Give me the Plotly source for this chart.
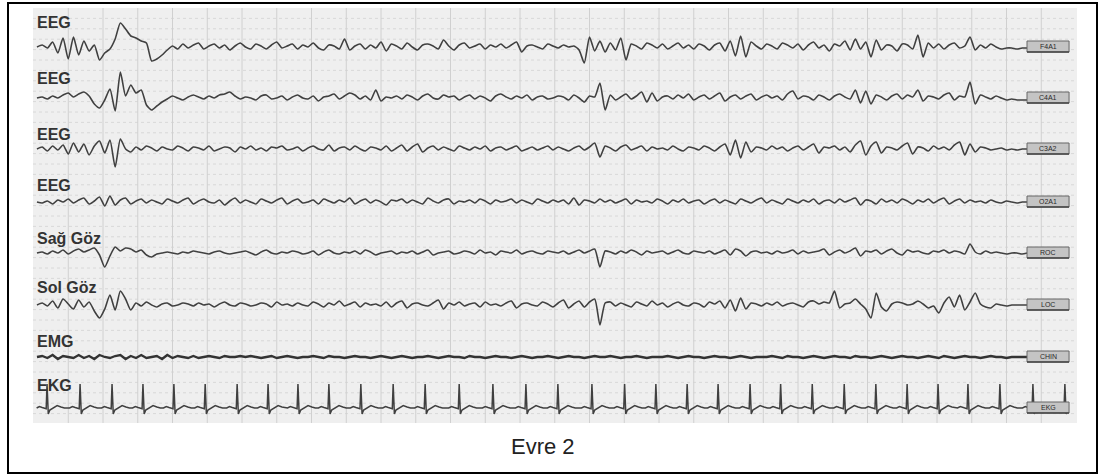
import numpy as np
import plotly.graph_objects as go

W, H = 1101, 476

# ---- channel metadata ----
channel_names = ["EEG", "EEG", "EEG", "EEG", "Sağ Göz", "Sol Göz", "EMG", "EKG"]
derivations = ["F4A1", "C4A1", "C3A2", "O2A1", "ROC", "LOC", "CHIN", "EKG"]
title_text = "Evre 2"

# sampling of the EEG / EOG / EMG traces (seconds)
t_start, t_step = 0.1, 0.15

# ---- trace amplitudes (µV-like units, positive = up) ----
eeg_f4a1 = [
    0, 2, -1, 5, -6, 9, -12, 10, -8, 6,
    -4, 2, -13, -6, -2, 8, 24, 18, 11, 9,
    6, 4, -14, -12, -8, -3, 1, -2, 3, -1,
    2, 4, -2, 1, 3, -1, 2, -3, 1, 4,
    0, -2, 3, 1, -2, 2, 5, -1, 1, 3,
    -2, 2, 0, 4, -1, -3, 2, 1, -2, 8,
    -3, 1, 3, -2, 2, -1, 5, -4, 3, 1,
    -2, 4, 0, -3, 2, 3, 1, -2, 7, 1,
    -3, 2, 4, -1, 1, 3, -2, 2, 0, 3,
    -1, 2, 5, -5, 1, 2, 0, -2, 3, 1,
    -1, 2, 0, 1, -3, -16, 10, -4, 6, -5,
    4, -3, 9, -13, 3, 1, -2, 4, 2, -1,
    3, -2, 1, 4, -1, 2, -2, 3, 1, -3,
    2, 4, -4, 6, -9, 11, -10, 5, 1, -2,
    3, 1, -2, 4, 2, -1, 3, -3, 2, 5,
    -1, 2, -4, 3, 1, 6, -3, 8, -2, 5,
    -10, 7, -3, 2, 1, -4, 3, 2, -2, 12,
    -10, 4, -1, 3, -2, 2, 4, -1, 1, 10,
    -3, 2, -1, 3, 0, -2, -1, -1, -2, -1,
    -1,
]
eeg_c4a1 = [
    0, 1, -1, 2, 0, 3, 5, 1, 4, 6,
    2, -6, -10, -2, 9, -13, 26, 2, 13, 5,
    8, -7, -12, -8, -4, -1, 2, 0, -2, 1,
    3, 1, -1, 2, 0, 3, 4, 6, 2, -1,
    1, 0, -2, 2, 3, -1, 0, 2, -2, 1,
    3, 0, -1, 2, -3, 1, 2, 4, -1, 2,
    5, 3, -1, 2, -2, 8, -3, 1, 0, 2,
    -1, 3, 1, -2, 2, 4, 0, -1, 3, 1,
    2, -2, 1, 3, -1, 2, 0, -3, 2, 4,
    1, -1, 2, 0, 3, -2, 1, 2, -1, 0,
    2, 1, -2, 3, 0, -4, 2, 1, 15, -12,
    3, -2, 1, 4, -1, 2, 6, -4, 5, -3,
    1, 2, -1, 3, 0, 4, -2, 1, 3, -1,
    2, 5, -3, 1, 3, -1, 2, 4, -2, 1,
    3, 0, 2, -2, 4, 7, -1, 2, 1, -2,
    3, 1, -2, 2, 4, 1, -1, 8, -5, 7,
    -6, 3, 1, -2, 2, 4, -1, 3, 1, 8,
    -3, 2, 1, -1, 3, 5, -2, 2, 1, 16,
    -6, 3, 1, -1, 2, 0, -2, -1, -2, -2,
    -2,
]
eeg_c3a2 = [
    0, 2, -2, 3, -1, 4, -5, 6, -3, 5,
    -6, 3, 8, -4, 9, -18, 10, 0, -3, 2,
    -1, 3, 1, -2, 2, 0, -1, 3, 1, -2,
    2, 1, -1, 3, -2, 0, 2, 1, -3, 2,
    0, 3, -1, 1, -2, 2, 1, 3, -1, 0,
    2, -2, 1, 3, 0, -1, 4, -2, 1, 2,
    -1, 3, 0, -2, 2, 1, -1, 3, -2, 1,
    4, -2, 2, 5, -3, 1, 3, -1, 2, 0,
    -2, 3, 1, -1, 2, 0, 3, -2, 1, 2,
    -1, 1, 3, -2, 0, 2, -1, 1, 3, -1,
    2, 0, -2, 1, 3, -1, 2, 6, -8, 3,
    1, -2, 2, 4, -1, 1, 3, -2, 2, 0,
    1, -1, 3, 0, -2, 2, 1, -1, 3, 1,
    -2, 2, 5, -6, 9, -9, 7, -3, 2, 1,
    -1, 3, 0, 2, -2, 1, 3, -1, 2, 5,
    -4, 2, 1, 3, -1, 2, -3, 4, 8, -6,
    3, 7, -4, 2, 1, -1, 3, 6, -5, 2,
    1, -2, 3, 0, 2, -1, 4, 7, -6, 5,
    -3, 2, 1, -1, 0, 1, -1, 0, -1, 0,
    0,
]
eeg_o2a1 = [
    0, -1, 1, -2, 2, 0, 3, -1, 2, 4,
    -2, 1, 5, -4, 6, -3, 2, 4, -2, 1,
    3, -1, 2, 0, -2, 3, 1, -1, 2, 4,
    -2, 1, 3, 0, -1, 2, -3, 1, 4, -1,
    2, 0, -2, 3, 1, -1, 2, 4, -2, 1,
    3, -1, 0, 2, -2, 3, 1, -1, 2, 0,
    4, -2, 1, 3, -1, 2, 0, -3, 2, 1,
    3, -1, 2, 0, -2, 4, 1, -1, 2, 3,
    -2, 1, 0, 2, -1, 3, 1, -2, 2, 0,
    1, 3, -1, 2, 0, -2, 3, 1, -1, 2,
    0, 2, -2, 4, -3, 2, 1, -1, 3, 0,
    2, -1, 1, 3, -2, 2, 0, 1, -1, 3,
    1, -2, 2, 0, 3, -1, 1, 2, -2, 1,
    3, -1, 2, 0, -2, 3, 1, -1, 2, 4,
    -1, 2, 0, -2, 3, 1, -1, 2, 0, 3,
    -2, 1, 2, -1, 3, 0, 2, 4, -3, 2,
    1, -2, 3, 0, 2, -1, 3, 1, -2, 2,
    0, 3, -1, 2, 4, -2, 1, 3, -1, 2,
    0, 1, -1, 2, 0, -1, 1, 0, -1, 0,
    0,
]
eog_roc = [
    0, 1, -1, 2, 0, 3, -1, 2, 4, 1,
    3, 5, -2, -14, -3, 6, 2, 5, 4, 1,
    3, -2, -4, -1, 0, 1, 0, -1, 1, 0,
    2, 1, 0, -1, 1, 2, 0, -1, 0, 1,
    2, 0, -2, 1, 3, 0, -1, 1, 0, 2,
    1, -1, 0, 2, -2, 1, 3, 0, -1, 1,
    0, 2, -1, 3, 1, -2, 0, 1, 2, -1,
    1, 0, 2, -1, 1, 3, -2, 0, 1, 2,
    -1, 0, 2, 1, -1, 3, 0, 1, -2, 2,
    1, 0, 3, -1, 1, 2, 0, -1, 2, 1,
    0, 2, -1, 1, 3, 0, 2, 4, -14, 2,
    1, -1, 2, 0, 3, 1, -2, 2, 0, 1,
    2, -1, 1, 3, 0, -1, 2, 1, 0, 2,
    -1, 1, 3, -2, 4, 2, -3, 1, 2, 0,
    1, -1, 2, 0, 1, 3, -1, 2, 0, 1,
    2, 4, -2, 1, 3, 0, 2, 5, -3, 2,
    1, 3, -1, 2, 4, 0, -2, 3, 1, 2,
    0, -1, 2, 1, 3, 0, 2, 1, -1, 9,
    1, -1, 2, 0, 1, 0, -1, 0, 0, -1,
    0,
]
eog_loc = [
    0, 2, -1, 4, -3, 6, 1, -4, 5, -2,
    3, -6, -13, -4, 10, -5, 14, 6, -5, 2,
    -1, 3, 0, -2, 1, 2, -1, 0, 2, 1,
    -1, 2, 0, 1, -2, 1, 3, 0, -1, 2,
    1, -1, 0, 2, 1, -2, 3, 0, 1, -1,
    2, 0, -1, 3, 1, -2, 2, 0, 4, -1,
    1, 3, -2, 2, 0, 1, -1, 3, -2, 2,
    4, -3, 1, 2, 0, -1, 2, 5, -4, 2,
    0, 3, -1, 1, 2, -2, 3, 0, 1, -1,
    2, 4, -3, 1, 2, 0, -1, 3, 1, -2,
    2, 5, -3, 1, 4, -2, 3, 6, -20, 2,
    3, -1, 2, 0, -2, 3, 1, -1, 4, 0,
    2, -2, 1, 3, 0, -1, 2, 1, -2, 3,
    1, 4, -3, 5, -6, 7, -4, 2, 1, -1,
    2, 0, 3, -1, 1, 2, 0, -2, 3, 4,
    1, 3, 2, 14, -3, 1, 2, 6, 1, -4,
    -13, 12, -2, -6, 1, 3, 2, 0, 1, 4,
    1, -3, -1, -8, 2, 8, -2, 10, -5, 3,
    12, 1, -2, -3, 1, 0, -1, 0, 0, 0,
    0,
]
emg_chin = [
    0, 1, -1, 2, -2, 1, 0, -1, 2, -1,
    1, -2, 2, 0, -1, 1, 2, -2, 1, -1,
    2, -1, 0, 1, -2, 2, -1, 1, 0, -1,
    1, -1, 0, 1, 0, -1, 1, 0, 0, 1,
    0, 1, 0, -1, 0, 1, -1, 0, 1, 0,
    -1, 0, 0, 1, 0, -1, 1, 0, 0, -1,
    0, 1, 0, 0, -1, 0, 1, 0, -1, 0,
    1, 0, -1, 0, 0, 1, 0, -1, 0, 1,
    0, 0, -1, 1, 0, 0, -1, 0, 1, 0,
    0, -1, 0, 1, 0, -1, 0, 0, 1, 0,
    -1, 0, 1, 0, 0, -1, 0, 1, 0, 0,
    1, 0, -1, 0, 0, 1, 0, -1, 0, 0,
    0, 1, 0, -1, 0, 1, 0, 0, -1, 0,
    1, 0, 0, -1, 0, 1, 0, -1, 0, 0,
    0, 1, 0, -1, 1, 0, 0, -1, 0, 1,
    0, -1, 0, 1, 0, 0, -1, 1, 0, 0,
    -1, 0, 1, 0, -1, 0, 1, 0, 0, -1,
    0, 1, 0, -1, 1, 0, -1, 0, 1, 0,
    0, -1, 0, 1, 0, 0, -1, 0, 0, 0,
    0,
]

# ECG: R-peak times (s) and one averaged beat (offset s, amplitude)
r_peaks = [
    0.39, 1.34, 2.26, 3.15, 4.04, 4.94, 5.86, 6.75, 7.61, 8.50,
    9.42, 10.35, 11.27, 12.25, 13.22, 14.17, 15.09, 16.07, 17.01, 17.91,
    18.81, 19.70, 20.62, 21.50, 22.41, 23.33, 24.24, 25.14, 26.03, 26.89,
    27.81, 28.76, 29.68,
]
beat_offset = [-0.30, -0.22, -0.14, -0.07, -0.025, 0.0, 0.035, 0.08, 0.17, 0.29, 0.40, 0.50]
beat_amp = [0, 1.5, 0.5, 0, -0.8, 24, -6, -2, 0, 2.5, 1, 0]

# ---- page geometry (pixels) ----
baseline_px = [47, 98, 149, 202, 253, 305, 357, 408]
label_px = [22, 79, 134, 186, 238, 287, 341, 385]
panel = dict(x0=33, x1=1077, y0=8, y1=423)
t_left_px, px_per_s = 33.5, 34.75
box_t = (28.59, 29.80)
half = 30  # half-height of each channel axis, in pixels

series = [eeg_f4a1, eeg_c4a1, eeg_c3a2, eeg_o2a1, eog_roc, eog_loc, emg_chin]

fig = go.Figure()
trace_color = "#404040"

for k, vals in enumerate(series):
    tt = t_start + t_step * np.arange(len(vals))
    is_emg = k == 6
    fig.add_trace(go.Scatter(
        x=tt, y=vals, mode="lines",
        line=dict(color="#333333" if is_emg else trace_color,
                  width=2.3 if is_emg else 1.6,
                  shape="linear" if is_emg else "spline",
                  smoothing=0.6),
        xaxis="x", yaxis="y" if k == 0 else f"y{k + 1}",
        hoverinfo="skip", showlegend=False,
    ))

# ECG trace assembled from the beat and the R-peak list
ekg_t, ekg_v = [], []
for r in r_peaks:
    for d, a in zip(beat_offset, beat_amp):
        if r + d <= box_t[1]:
            ekg_t.append(r + d)
            ekg_v.append(a)
fig.add_trace(go.Scatter(
    x=ekg_t, y=ekg_v, mode="lines",
    line=dict(color=trace_color, width=1.5),
    xaxis="x", yaxis="y8", hoverinfo="skip", showlegend=False,
))

layout = dict(
    width=W, height=H,
    margin=dict(l=0, r=0, t=0, b=0),
    paper_bgcolor="white", plot_bgcolor="rgba(0,0,0,0)",
    showlegend=False,
    xaxis=dict(domain=[t_left_px / W, (t_left_px + 30 * px_per_s) / W],
               range=[0, 30], visible=False, fixedrange=True),
)
for k, b in enumerate(baseline_px):
    name = "yaxis" if k == 0 else f"yaxis{k + 1}"
    layout[name] = dict(domain=[1 - (b + half) / H, 1 - (b - half) / H],
                        range=[-half, half], visible=False, anchor="x",
                        fixedrange=True)
fig.update_layout(**layout)

shapes = []
# grey recording panel
shapes.append(dict(type="rect", xref="paper", yref="paper",
                   x0=panel["x0"] / W, x1=panel["x1"] / W,
                   y0=1 - panel["y1"] / H, y1=1 - panel["y0"] / H,
                   fillcolor="#efefef", line=dict(width=0), layer="below"))
# faint dotted amplitude rows
yy = panel["y0"] + 10.4
while yy < panel["y1"] - 2:
    shapes.append(dict(type="line", xref="paper", yref="paper",
                       x0=panel["x0"] / W, x1=panel["x1"] / W,
                       y0=1 - yy / H, y1=1 - yy / H,
                       line=dict(color="#d8d8d8", width=1, dash="dot"),
                       layer="below"))
    yy += 10.4
# one-second grid
for s in range(1, 30):
    shapes.append(dict(type="line", xref="x", yref="paper", x0=s, x1=s,
                       y0=1 - panel["y1"] / H, y1=1 - panel["y0"] / H,
                       line=dict(color="#d0d0d0", width=1), layer="below"))
# derivation tags at the right end of each trace
for k in range(8):
    yref = "y" if k == 0 else f"y{k + 1}"
    shapes.append(dict(type="rect", xref="x", yref=yref,
                       x0=box_t[0], x1=box_t[1], y0=-5, y1=6,
                       fillcolor="#c4c4c4", line=dict(color="#666666", width=1),
                       layer="above"))
    shapes.append(dict(type="line", xref="x", yref=yref,
                       x0=box_t[0], x1=box_t[1], y0=-5, y1=-5,
                       line=dict(color="#444444", width=1.5), layer="above"))
# outer frame
shapes.append(dict(type="rect", xref="paper", yref="paper",
                   x0=8 / W, x1=1097 / W, y0=1 - 473 / H, y1=1 - 3 / H,
                   line=dict(color="black", width=2), fillcolor="rgba(0,0,0,0)",
                   layer="above"))
fig.update_layout(shapes=shapes)

annotations = []
for name, c in zip(channel_names, label_px):
    annotations.append(dict(
        text=f"<b>{name}</b>", xref="paper", yref="paper",
        x=35 / W, y=1 - c / H, xanchor="left", yanchor="middle",
        showarrow=False,
        font=dict(family="Liberation Sans, Arial", size=16, color="#333333"),
    ))
for k, d in enumerate(derivations):
    annotations.append(dict(
        text=d, xref="x", yref="y" if k == 0 else f"y{k + 1}",
        x=sum(box_t) / 2, y=0.5, xanchor="center", yanchor="middle",
        showarrow=False,
        font=dict(family="Liberation Sans, Arial", size=7, color="#2a2a2a"),
    ))
annotations.append(dict(
    text=title_text, xref="paper", yref="paper",
    x=543 / W, y=1 - 446 / H, xanchor="center", yanchor="middle",
    showarrow=False,
    font=dict(family="Liberation Sans, Arial", size=22, color="#222222"),
))
fig.update_layout(annotations=annotations)

fig.write_html("out.html", config={"displayModeBar": False})
